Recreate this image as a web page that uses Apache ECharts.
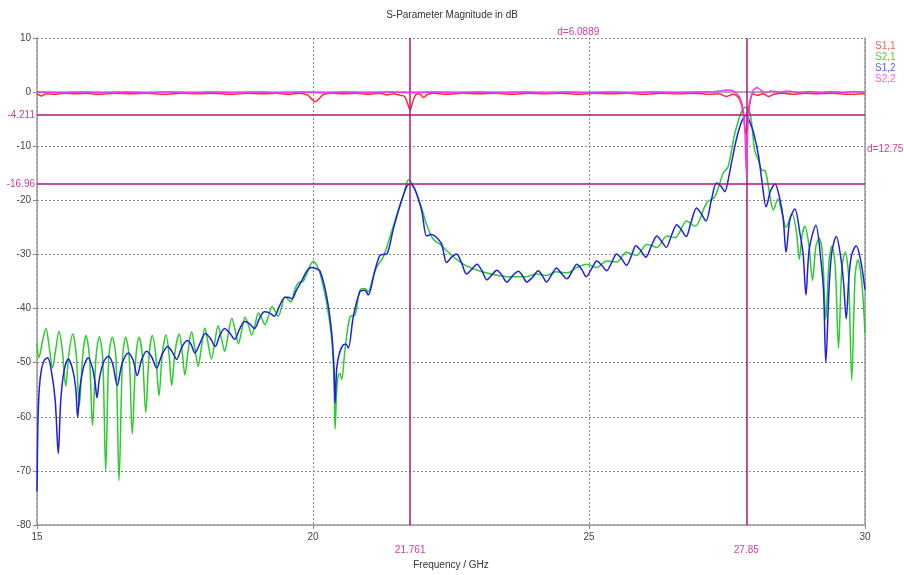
<!DOCTYPE html>
<html>
<head>
<meta charset="utf-8">
<script src="https://cdn.jsdelivr.net/npm/echarts@6/dist/echarts.min.js"></script>
<style>
  html, body { margin: 0; padding: 0; background: #fff; }
  #chart { width: 904px; height: 575px; }
</style>
</head>
<body>
<div id="chart"></div>
<script>
// S-parameter sweep, 15-30 GHz, magnitudes in dB
const xTicks = [15, 20, 25, 30];
const yTicks = [10, 0, -10, -20, -30, -40, -50, -60, -70, -80];

// S2,1
const freqS21 = [15.000, 15.036, 15.10, 15.163, 15.22, 15.280, 15.34, 15.399, 15.46, 15.520, 15.58, 15.647, 15.71, 15.766, 15.83, 15.888, 15.95, 16.005, 16.07, 16.129, 16.19, 16.245, 16.30, 16.364, 16.43, 16.486, 16.55, 16.607, 16.67, 16.726, 16.79, 16.848, 16.91, 16.970, 17.03, 17.089, 17.15, 17.210, 17.27, 17.337, 17.39, 17.440, 17.50, 17.578, 17.63, 17.680, 17.74, 17.800, 17.86, 17.920, 17.98, 18.040, 18.10, 18.160, 18.22, 18.280, 18.34, 18.400, 18.46, 18.530, 18.59, 18.650, 18.71, 18.770, 18.83, 18.890, 18.95, 19.010, 19.07, 19.130, 19.19, 19.260, 19.31, 19.370, 19.43, 19.490, 19.55, 19.600, 19.67, 19.740, 19.82, 19.900, 20.000, 20.07, 20.13, 20.25, 20.34, 20.38, 20.400, 20.43, 20.46, 20.49, 20.52, 20.58, 20.67, 20.76, 20.85, 20.94, 21.00, 21.08, 21.15, 21.27, 21.40, 21.52, 21.64, 21.73, 21.82, 21.94, 22.06, 22.18, 22.30, 22.42, 22.60, 22.78, 23.03, 23.27, 23.51, 23.87, 24.05, 24.23, 24.40, 24.60, 24.78, 24.96, 25.14, 25.32, 25.50, 25.68, 25.86, 26.05, 26.23, 26.41, 26.56, 26.77, 26.92, 27.13, 27.28, 27.43, 27.52, 27.64, 27.77, 27.83, 27.92, 28.00, 28.07, 28.13, 28.19, 28.28, 28.34, 28.42, 28.50, 28.57, 28.68, 28.76, 28.81, 28.86, 28.91, 28.98, 29.05, 29.11, 29.17, 29.23, 29.29, 29.35, 29.40, 29.46, 29.52, 29.58, 29.64, 29.70, 29.76, 29.82, 29.87, 29.94, 30.00];
const dbS21 = [-46.5, -49.1, -46.0, -43.7, -47.0, -51.0, -47.5, -44.2, -47.8, -54.3, -48.2, -44.7, -48.5, -58.0, -48.5, -45.0, -48.8, -61.6, -48.8, -45.2, -49.0, -70.0, -49.0, -45.3, -49.0, -71.8, -49.0, -45.3, -49.0, -63.2, -49.0, -45.3, -48.8, -59.2, -48.7, -45.0, -48.5, -56.1, -48.4, -44.9, -48.2, -54.2, -48.0, -44.7, -48.0, -52.3, -47.6, -44.3, -47.4, -50.7, -47.0, -43.6, -46.5, -49.3, -46.2, -43.2, -45.5, -47.9, -45.0, -41.8, -44.0, -46.5, -44.0, -41.6, -43.0, -44.9, -43.0, -40.8, -41.8, -43.0, -41.5, -39.6, -40.4, -41.4, -39.8, -37.9, -38.3, -38.8, -36.5, -35.2, -35.0, -33.3, -31.3, -32.0, -33.6, -39.1, -45.8, -53.0, -62.3, -55.0, -52.3, -52.0, -53.1, -47.6, -41.5, -41.2, -36.6, -36.3, -36.9, -34.5, -32.4, -30.5, -26.6, -22.6, -19.0, -16.2, -17.4, -20.5, -24.5, -27.2, -28.1, -29.3, -30.9, -32.1, -33.1, -33.7, -34.1, -34.1, -33.6, -33.9, -33.2, -33.4, -32.4, -31.8, -32.4, -31.2, -31.4, -29.6, -30.2, -28.1, -28.7, -26.6, -26.9, -23.8, -24.8, -20.5, -19.3, -15.0, -13.8, -7.7, -3.4, -2.8, -4.0, -10.7, -12.6, -14.4, -14.5, -19.3, -21.8, -19.8, -22.5, -25.0, -22.5, -26.0, -30.9, -26.5, -24.8, -28.0, -34.8, -28.5, -27.0, -30.0, -42.0, -31.0, -28.5, -32.0, -47.3, -32.5, -29.6, -33.5, -53.2, -34.0, -31.0, -35.0, -44.5];

// S1,2
const freqS12 = [15.000, 15.015, 15.04, 15.08, 15.13, 15.194, 15.26, 15.33, 15.386, 15.43, 15.49, 15.567, 15.64, 15.70, 15.737, 15.78, 15.85, 15.929, 16.00, 16.05, 16.087, 16.13, 16.21, 16.292, 16.37, 16.455, 16.54, 16.654, 16.74, 16.817, 16.89, 16.986, 17.08, 17.168, 17.26, 17.367, 17.45, 17.531, 17.62, 17.72, 17.79, 17.86, 17.95, 18.05, 18.14, 18.23, 18.31, 18.40, 18.49, 18.58, 18.67, 18.76, 18.85, 18.94, 19.03, 19.12, 19.21, 19.30, 19.39, 19.49, 19.55, 19.62, 19.70, 19.80, 19.88, 19.96, 20.05, 20.13, 20.25, 20.34, 20.38, 20.40, 20.43, 20.48, 20.55, 20.60, 20.64, 20.73, 20.85, 20.94, 21.00, 21.12, 21.21, 21.28, 21.34, 21.46, 21.58, 21.70, 21.761, 21.85, 21.97, 22.06, 22.14, 22.21, 22.33, 22.42, 22.51, 22.60, 22.69, 22.78, 22.87, 22.97, 23.06, 23.15, 23.24, 23.33, 23.42, 23.51, 23.61, 23.72, 23.80, 23.87, 23.98, 24.08, 24.16, 24.23, 24.32, 24.41, 24.50, 24.60, 24.69, 24.78, 24.87, 24.95, 25.05, 25.14, 25.23, 25.32, 25.41, 25.50, 25.59, 25.68, 25.77, 25.85, 25.94, 26.03, 26.13, 26.23, 26.31, 26.40, 26.49, 26.59, 26.67, 26.76, 26.85, 26.95, 27.03, 27.12, 27.22, 27.31, 27.39, 27.46, 27.53, 27.59, 27.68, 27.77, 27.85, 27.93, 27.98, 28.07, 28.13, 28.21, 28.29, 28.37, 28.46, 28.52, 28.57, 28.64, 28.73, 28.82, 28.88, 28.93, 28.99, 29.11, 29.20, 29.25, 29.29, 29.35, 29.40, 29.48, 29.56, 29.61, 29.66, 29.71, 29.76, 29.84, 29.92, 30.00];
const dbS12 = [-73.8, -62.0, -55.0, -51.3, -49.6, -49.1, -51.5, -57.0, -66.8, -57.0, -51.5, -49.3, -51.0, -54.5, -60.1, -54.5, -50.6, -49.1, -50.8, -53.5, -56.5, -53.0, -49.8, -48.8, -50.2, -54.2, -50.2, -48.2, -49.5, -52.4, -49.6, -47.9, -49.0, -51.0, -48.6, -47.0, -48.0, -49.4, -47.2, -45.9, -46.6, -48.2, -46.5, -44.6, -45.5, -47.0, -45.0, -43.7, -44.5, -45.7, -43.8, -42.4, -42.8, -43.7, -41.8, -40.6, -40.8, -41.4, -39.6, -37.9, -37.9, -38.2, -36.6, -34.8, -33.2, -32.4, -32.6, -33.1, -37.9, -44.6, -51.0, -57.5, -51.0, -48.2, -46.7, -46.6, -47.3, -41.5, -36.9, -36.6, -37.5, -33.0, -30.2, -30.0, -29.9, -25.1, -20.8, -17.4, -16.96, -18.1, -22.0, -26.6, -26.3, -26.6, -28.1, -31.5, -30.5, -29.9, -31.5, -33.6, -32.8, -31.8, -33.0, -34.7, -33.8, -32.9, -33.8, -35.1, -34.0, -33.1, -34.0, -35.1, -34.2, -33.0, -34.0, -35.1, -33.8, -32.5, -33.5, -34.5, -33.2, -31.8, -32.8, -34.1, -32.6, -31.2, -32.0, -33.0, -31.5, -29.9, -30.8, -32.0, -30.2, -28.4, -29.3, -30.5, -28.4, -26.6, -27.5, -28.7, -26.6, -24.5, -25.4, -26.7, -24.0, -21.4, -22.4, -23.8, -19.8, -16.8, -17.4, -18.4, -15.8, -12.6, -8.3, -5.3, -4.211, -6.0, -7.4, -11.7, -16.2, -21.2, -18.2, -17.0, -19.9, -23.5, -29.6, -23.5, -21.6, -26.0, -30.0, -37.5, -29.0, -24.6, -31.0, -37.0, -50.0, -36.0, -29.5, -26.7, -30.5, -35.0, -41.9, -34.0, -30.0, -28.4, -31.0, -36.5];

// S1,1
const freqS11 = [15.00, 15.08, 15.16, 15.30, 15.50, 15.70, 15.90, 16.10, 16.40, 16.70, 17.00, 17.30, 17.60, 17.90, 18.20, 18.50, 18.80, 19.10, 19.35, 19.55, 19.75, 19.90, 19.97, 20.04, 20.11, 20.20, 20.35, 20.55, 20.80, 21.00, 21.20, 21.35, 21.45, 21.58, 21.66, 21.71, 21.76, 21.80, 21.86, 21.93, 22.00, 22.08, 22.20, 22.40, 22.70, 23.00, 23.30, 23.60, 23.90, 24.20, 24.50, 24.80, 25.10, 25.40, 25.70, 26.00, 26.30, 26.60, 26.90, 27.20, 27.35, 27.49, 27.60, 27.70, 27.76, 27.80, 27.84, 27.88, 27.92, 27.97, 28.05, 28.15, 28.25, 28.35, 28.50, 28.70, 28.90, 29.10, 29.40, 29.70, 30.00];
const dbS11 = [-0.3, -0.7, -0.3, -0.4, -0.2, -0.3, -0.2, -0.4, -0.2, -0.3, -0.2, -0.4, -0.2, -0.3, -0.2, -0.4, -0.2, -0.3, -0.2, -0.4, -0.2, -0.5, -1.2, -1.8, -1.2, -0.4, -0.2, -0.3, -0.2, -0.4, -0.2, -0.5, -0.3, -0.6, -0.8, -2.0, -3.3, -2.0, -0.5, -0.3, -1.0, -0.4, -0.2, -0.4, -0.2, -0.3, -0.2, -0.4, -0.2, -0.3, -0.2, -0.4, -0.2, -0.3, -0.2, -0.4, -0.2, -0.3, -0.2, -0.4, -0.3, -0.8, -0.4, -0.9, -2.2, -4.5, -7.8, -4.0, -1.5, -0.3, -0.6, -0.3, -0.8, -0.4, -0.2, -0.4, -0.2, -0.3, -0.2, -0.4, -0.3];

// S2,2
const freqS22 = [15.00, 15.40, 15.80, 16.20, 16.60, 17.00, 17.40, 17.80, 18.20, 18.60, 19.00, 19.40, 19.80, 20.20, 20.60, 21.00, 21.40, 21.80, 22.20, 22.60, 23.00, 23.40, 23.80, 24.20, 24.60, 25.00, 25.40, 25.80, 26.20, 26.60, 27.00, 27.20, 27.35, 27.50, 27.60, 27.66, 27.72, 27.78, 27.82, 27.85, 27.88, 27.91, 27.95, 28.00, 28.05, 28.12, 28.20, 28.30, 28.45, 28.60, 28.80, 29.00, 29.20, 29.40, 29.60, 29.80, 30.00];
const dbS22 = [0.0, -0.1, 0.0, -0.1, 0.0, -0.1, 0.0, -0.1, 0.0, -0.1, 0.0, -0.1, 0.0, -0.1, 0.0, -0.1, 0.0, -0.1, 0.0, -0.1, 0.0, -0.1, 0.0, -0.1, 0.0, -0.1, 0.0, -0.1, 0.0, -0.1, 0.0, 0.0, 0.2, 0.4, 0.3, -0.2, -0.8, -2.5, -6.0, -15.0, -6.0, -2.5, -0.3, 0.6, 0.8, 0.3, -0.1, 0.2, 0.0, 0.2, -0.1, 0.1, -0.1, 0.1, -0.1, 0.1, 0.0];

// Marker readouts
const markerFreqs = [21.761, 27.85];
const markerLevels = [-4.211, -16.96];
const deltaLabels = ['d=6.0889', 'd=12.75'];

const seriesNames = ['S1,1', 'S2,1', 'S1,2', 'S2,2'];
const seriesColors = ['#ff2a2a', '#2ccc2c', '#1e1ee6', '#f03cf0'];
const legendColors = ['#ff5a5a', '#4ccc4c', '#5a5aff', '#ff5aff'];
const markerColor = '#a8187c';
const markerTextColor = '#d43c9c';
const FONT = '"Liberation Sans", "DejaVu Sans", sans-serif';

function zip(fs, vs) { return fs.map((f, i) => [f, vs[i]]); }

const traces = [
  { name: 'S1,1', data: zip(freqS11, dbS11), z: 4 },
  { name: 'S2,1', data: zip(freqS21, dbS21), z: 2 },
  { name: 'S1,2', data: zip(freqS12, dbS12), z: 3 },
  { name: 'S2,2', data: zip(freqS22, dbS22), z: 5 }
];

const chart = echarts.init(document.getElementById('chart'), null, { renderer: 'canvas' });

const option = {
  animation: false,
  backgroundColor: '#ffffff',
  textStyle: { fontFamily: FONT },
  title: {
    text: 'S-Parameter Magnitude in dB',
    left: 'center',
    top: 5,
    textStyle: { fontSize: 10, fontWeight: 'normal', color: '#333', fontFamily: FONT }
  },
  legend: {
    orient: 'vertical',
    left: 870,
    top: 36,
    itemGap: 1,
    itemWidth: 0,
    itemHeight: 0,
    icon: 'none',
    selectedMode: false,
    data: seriesNames.map((n, i) => ({ name: n, textStyle: { color: legendColors[i], fontSize: 10, fontFamily: FONT } })),
    textStyle: { fontSize: 10, padding: [0, 0, 0, -5] }
  },
  grid: { left: 37, right: 39, top: 38, bottom: 47 },
  xAxis: [{
    type: 'value',
    min: 15, max: 30, interval: 5,
    name: 'Frequency / GHz',
    nameLocation: 'middle',
    nameGap: 35,
    nameTextStyle: { fontSize: 10, color: '#333', fontFamily: FONT },
    axisLine: { show: true, onZero: false, lineStyle: { color: '#999', width: 1.5 } },
    axisTick: { show: true, length: 4, lineStyle: { color: '#888' } },
    axisLabel: { fontSize: 10, color: '#444', margin: 7, formatter: v => xTicks.includes(v) ? String(v) : '' },
    splitLine: { show: true, lineStyle: { color: '#8a8a8a', type: [2, 2], width: 1 } }
  }, {
    type: 'value', position: 'top', min: 15, max: 30, interval: 5,
    axisLine: { show: true, lineStyle: { color: '#999', width: 1.5 } },
    axisTick: { show: false }, axisLabel: { show: false }, splitLine: { show: false }
  }],
  yAxis: [{
    type: 'value',
    min: -80, max: 10, interval: 10,
    axisLine: { show: true, onZero: false, lineStyle: { color: '#999', width: 1.5 } },
    axisTick: { show: true, length: 4, lineStyle: { color: '#888' } },
    axisLabel: { fontSize: 10, color: '#444', margin: 6, formatter: v => yTicks.includes(v) ? String(v) : '' },
    splitLine: { show: true, lineStyle: { color: '#8a8a8a', type: [2, 2], width: 1 } }
  }, {
    type: 'value', position: 'right', min: -80, max: 10, interval: 10,
    axisLine: { show: true, lineStyle: { color: '#999', width: 1.5 } },
    axisTick: { show: false }, axisLabel: { show: false }, splitLine: { show: false }
  }],
  series: [
    {
      name: 'markers',
      type: 'line',
      data: [],
      z: 1,
      silent: true,
      markLine: {
        symbol: 'none',
        silent: true,
        animation: false,
        lineStyle: { color: markerColor, width: 1.5, type: 'solid' },
        label: { color: markerTextColor, fontSize: 10, fontFamily: FONT },
        emphasis: { disabled: true },
        data: [
          { xAxis: markerFreqs[0], label: { position: 'start', distance: 20, formatter: String(markerFreqs[0]) } },
          { xAxis: markerFreqs[1], label: { position: 'start', distance: 20, formatter: String(markerFreqs[1]) } },
          { yAxis: markerLevels[0], label: { position: 'start', distance: 2, formatter: String(markerLevels[0]) } },
          { yAxis: markerLevels[1], label: { position: 'start', distance: 2, formatter: String(markerLevels[1]) } }
        ]
      },
      markPoint: {
        symbol: 'circle',
        symbolSize: 0,
        silent: true,
        label: { color: markerTextColor, fontSize: 10, fontFamily: FONT },
        data: [
          { coord: [(markerFreqs[0] + markerFreqs[1]) / 2, 10], label: { position: 'top', distance: 1, formatter: deltaLabels[0] } },
          { coord: [30, (markerLevels[0] + markerLevels[1]) / 2], label: { position: 'right', distance: 2, formatter: deltaLabels[1] } }
        ]
      }
    }
  ].concat(traces.map(t => ({
    name: t.name,
    type: 'line',
    data: t.data,
    z: t.z,
    smooth: 0.3,
    showSymbol: false,
    symbol: 'none',
    lineStyle: { width: 1.5, color: seriesColors[seriesNames.indexOf(t.name)] },
    itemStyle: { color: seriesColors[seriesNames.indexOf(t.name)] },
    emphasis: { disabled: true }
  })))
};

chart.setOption(option);
</script>
</body>
</html>
